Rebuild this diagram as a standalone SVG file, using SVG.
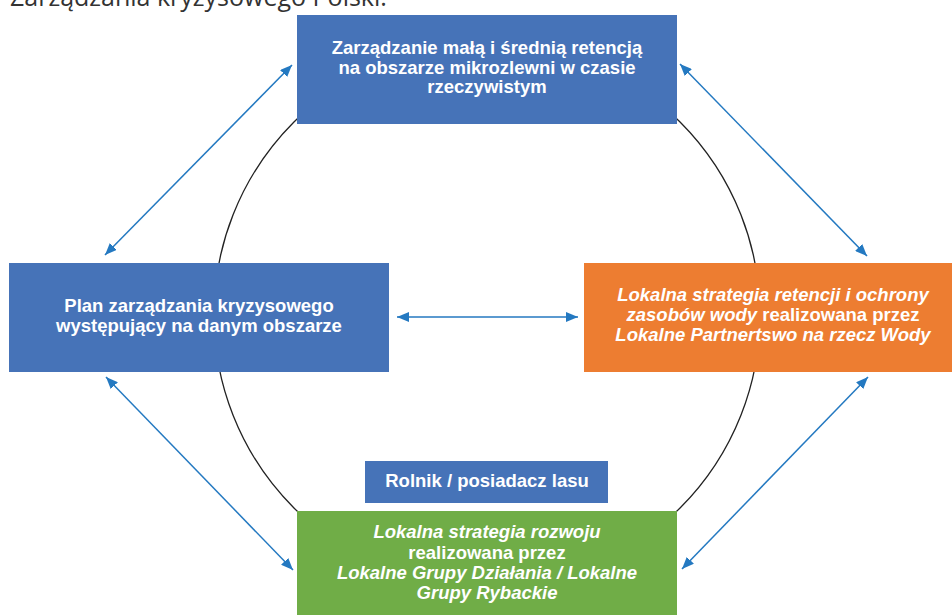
<svg xmlns="http://www.w3.org/2000/svg" width="952" height="615" viewBox="0 0 952 615">
<defs>
<marker id="ah" viewBox="0 0 12 10" refX="12" refY="5" markerWidth="12" markerHeight="10" markerUnits="userSpaceOnUse" orient="auto-start-reverse">
<path d="M0,0 L12,5 L0,10 Z" fill="#2479C1"/>
</marker>
<style>
.t{font-family:"Liberation Sans",Arial,sans-serif;font-weight:bold;font-size:18.5px;fill:#fff;text-anchor:middle}
.i{font-style:italic}
.c{fill:none;stroke:#2479C1;stroke-width:1.5;marker-start:url(#ah);marker-end:url(#ah)}
</style>
</defs>
<rect width="952" height="615" fill="#fff"/>
<text x="10" y="6" font-family="'Open Sans',sans-serif" font-size="25" fill="#333">Zarządzania kryzysowego Polski.</text>
<circle cx="487" cy="315" r="273" fill="none" stroke="#222" stroke-width="1.3"/>
<g id="connectors">
<line class="c" x1="105" y1="255" x2="292" y2="65"/>
<line class="c" x1="680" y1="64" x2="867" y2="256"/>
<line class="c" x1="106" y1="377" x2="293" y2="570"/>
<line class="c" x1="868" y1="377" x2="682" y2="569"/>
<line class="c" x1="397" y1="317" x2="578" y2="317"/>
</g>
<g id="top">
<rect x="297" y="15" width="380" height="109" fill="#4673B8"/>
<text class="t" x="487" y="54">Zarządzanie małą i średnią retencją</text>
<text class="t" x="487" y="74">na obszarze mikrozlewni w czasie</text>
<text class="t" x="487" y="93">rzeczywistym</text>
</g>
<g id="left">
<rect x="9" y="263" width="380" height="109" fill="#4673B8"/>
<text class="t" x="199" y="312">Plan zarządzania kryzysowego</text>
<text class="t" x="199" y="332">występujący na danym obszarze</text>
</g>
<g id="right">
<rect x="584" y="263" width="368" height="109" fill="#ED7D31"/>
<text class="t i" x="773" y="301">Lokalna strategia retencji i ochrony</text>
<text class="t" x="773" y="321"><tspan class="i">zasobów wody</tspan> realizowana przez</text>
<text class="t i" x="773" y="341">Lokalne Partnertswo na rzecz Wody</text>
</g>
<g id="rolnik">
<rect x="365" y="461" width="243" height="42" fill="#4673B8"/>
<text class="t" x="487" y="487">Rolnik / posiadacz lasu</text>
</g>
<g id="bottom">
<rect x="297" y="511" width="380" height="110" fill="#70AD47"/>
<text class="t i" x="487" y="538">Lokalna strategia rozwoju</text>
<text class="t" x="487" y="559">realizowana przez</text>
<text class="t i" x="487" y="579">Lokalne Grupy Działania / Lokalne</text>
<text class="t i" x="487" y="599">Grupy Rybackie</text>
</g>
</svg>
